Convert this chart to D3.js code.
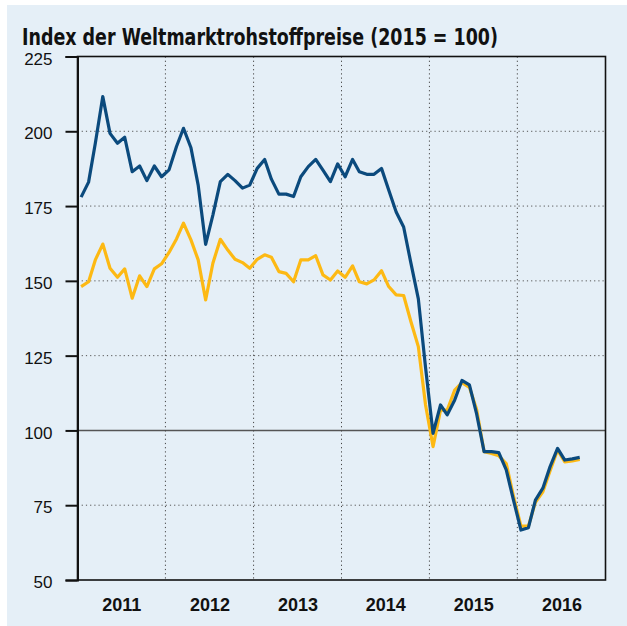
<!DOCTYPE html>
<html>
<head>
<meta charset="utf-8">
<script src="https://cdn.jsdelivr.net/npm/d3@7"></script>
<style>
  html, body { margin: 0; padding: 0; background: #fff; }
  svg { display: block; }
</style>
</head>
<body>
<svg id="chart"></svg>
<script>
var width = 627,
    height = 626;

// monthly index values, Jan 2011 - Sep 2016
var startYear = 2011;
var yearLabels = ["2011", "2012", "2013", "2014", "2015", "2016"];
var yTicks = [50, 75, 100, 125, 150, 175, 200, 225];

var seriesBlue = [
  178, 183, 196, 211.6, 199.3, 196, 198, 186.5, 188.4, 183.5, 188.4, 184.8,
  187.1, 194.9, 201, 194.5, 182, 162.2, 172, 183.2, 185.6, 183.5, 181, 182,
  187.6, 190.6, 184, 179, 179, 178.2, 184.8, 188.2, 190.6, 187, 183.2, 189.1,
  184.8, 190.6, 186.5, 185.6, 185.6, 187.6, 180.4, 173, 168, 156, 144, 121,
  99, 108.5, 105.2, 110.2, 116.7, 115.2, 105.5, 92.9, 92.9, 92.6, 86.8, 76.7,
  66.7, 67.5, 76.7, 80.7, 87.9, 94, 90.1, 90.5, 91
];
var seriesYellow = [
  148.1, 149.7, 157, 162.3, 154.2, 151.2, 154, 144.2, 151.7, 148.1, 154, 155.7,
  159.5, 164, 169.3, 163.7, 157, 143.6, 155.9, 163.9, 160.3, 157.2, 156.1, 154.2,
  157.2, 158.7, 157.9, 153.1, 152.5, 149.7, 157, 157, 158.4, 152, 150.3, 153.3,
  151.2, 155, 149.7, 149, 150.3, 153.4, 148.1, 145.3, 145.1, 136.4, 128, 108.5,
  94.6, 106.8, 106.8, 113.5, 116, 114.4, 107, 92.9, 92.3, 91.5, 88.9, 78,
  68, 68, 76, 79.5, 86.5, 93.5, 89.5, 89.8, 90.3
];

var svg = d3.select("#chart").attr("width", width).attr("height", height);

var plot = { left: 77.5, right: 605.5, top: 56.5, bottom: 580 };

// panel background
svg.append("rect")
    .attr("x", 7).attr("y", 5)
    .attr("width", width - 7).attr("height", height - 5)
    .attr("fill", "#e5eff7");

var x = d3.scaleTime()
    .domain([new Date(startYear, 0, 1), new Date(startYear + yearLabels.length, 0, 1)])
    .range([plot.left, plot.right]);

var y = d3.scaleLinear()
    .domain([50, 225])
    .range([plot.bottom, plot.top]);

function monthDate(i) {
    return new Date(startYear, i, 16);
}

// title
var title = svg.append("text")
    .attr("x", 22).attr("y", 45)
    .attr("font-family", "'Liberation Sans Narrow', 'DejaVu Sans Condensed', 'Liberation Sans', sans-serif")
    .attr("font-weight", "bold")
    .attr("font-size", 23)
    .attr("fill", "#111")
    .text("Index der Weltmarktrohstoffpreise (2015 = 100)");
var tl = title.node().getComputedTextLength();
if (Math.abs(tl - 476) > 4) {
    title.attr("textLength", 476).attr("lengthAdjust", "spacingAndGlyphs");
}

// horizontal grid
svg.append("g")
    .selectAll("line")
    .data(yTicks.filter(d => d > 50 && d < 225))
    .join("line")
    .attr("x1", plot.left).attr("x2", plot.right)
    .attr("y1", d => y(d)).attr("y2", d => y(d))
    .attr("stroke", "#555")
    .attr("stroke-width", d => d === 100 ? 1.5 : 1)
    .attr("stroke-dasharray", d => d === 100 ? null : "1.2,3");

// vertical year dividers
var yearStarts = yearLabels.slice(1).map(d => new Date(+d, 0, 1));
svg.append("g")
    .selectAll("line")
    .data(yearStarts)
    .join("line")
    .attr("x1", d => x(d)).attr("x2", d => x(d))
    .attr("y1", plot.top).attr("y2", plot.bottom)
    .attr("stroke", "#444")
    .attr("stroke-width", 1)
    .attr("stroke-dasharray", "1.2,3");

// frame
svg.append("rect")
    .attr("x", plot.left).attr("y", plot.top)
    .attr("width", plot.right - plot.left).attr("height", plot.bottom - plot.top)
    .attr("fill", "none")
    .attr("stroke", "#111")
    .attr("stroke-width", 1.6);

// y axis
var yAxis = d3.axisLeft(y)
    .tickValues(yTicks)
    .tickSize(12)
    .tickPadding(13)
    .tickFormat(d3.format("d"));

var gy = svg.append("g")
    .attr("transform", "translate(" + plot.left + ",0)")
    .call(yAxis);
gy.select(".domain").attr("stroke", "#111").attr("stroke-width", 2);
gy.selectAll(".tick line").attr("stroke", "#111").attr("stroke-width", 2);
gy.selectAll(".tick text")
    .attr("dy", "0.45em")
    .attr("font-family", "'Liberation Sans', Arial, sans-serif")
    .attr("font-size", 17)
    .attr("fill", "#111");

// x axis labels, centred in each year
var xAxis = d3.axisBottom(x)
    .tickValues(yearLabels.map(d => new Date(+d, 6, 2)))
    .tickSize(0)
    .tickPadding(18)
    .tickFormat(d3.timeFormat("%Y"));

var gx = svg.append("g")
    .attr("transform", "translate(0," + plot.bottom + ")")
    .call(xAxis);
gx.select(".domain").remove();
gx.selectAll(".tick text")
    .attr("font-family", "'Liberation Sans', Arial, sans-serif")
    .attr("font-weight", "bold")
    .attr("font-size", 18)
    .attr("fill", "#111");

// lines
var line = d3.line()
    .x((d, i) => x(monthDate(i)))
    .y(d => y(d));

svg.append("path")
    .datum(seriesYellow)
    .attr("d", line)
    .attr("fill", "none")
    .attr("stroke", "#fdb913")
    .attr("stroke-width", 3.2)
    .attr("stroke-linejoin", "round");

svg.append("path")
    .datum(seriesBlue)
    .attr("d", line)
    .attr("fill", "none")
    .attr("stroke", "#0b4a7d")
    .attr("stroke-width", 3.2)
    .attr("stroke-linejoin", "round");
</script>
</body>
</html>
